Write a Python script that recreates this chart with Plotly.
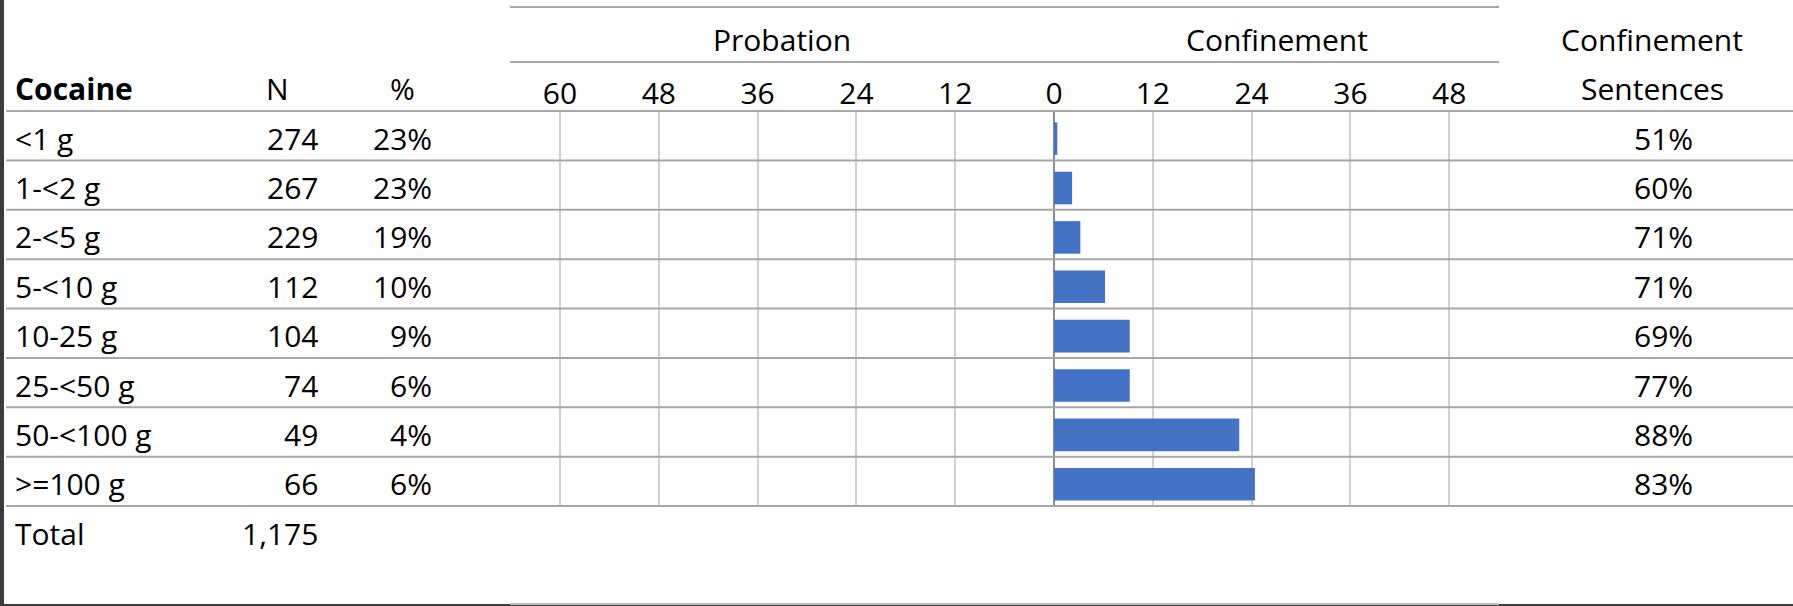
import plotly.graph_objects as go

# ---------------- data ----------------
categories = ["<1 g", "1-<2 g", "2-<5 g", "5-<10 g", "10-25 g", "25-<50 g", "50-<100 g", ">=100 g"]
n_values = [274, 267, 229, 112, 104, 74, 49, 66]
pct_values = [23, 23, 19, 10, 9, 6, 4, 6]
probation_months = [0, 0, 0, 0, 0, 0, 0, 0]
confinement_months = [0.4, 2.2, 3.2, 6.2, 9.2, 9.2, 22.5, 24.4]
confinement_rate = [51, 60, 71, 71, 69, 77, 88, 83]
total_n = 1175
tick_values = [-60, -48, -36, -24, -12, 0, 12, 24, 36, 48]
tick_labels = ["60", "48", "36", "24", "12", "0", "12", "24", "36", "48"]

# ---------------- layout geometry ----------------
W, H = 1793, 606
PLOT_L, PLOT_R = 510, 1499
PLOT_T, PLOT_B = 111, 506
ZERO_PX = 1054
PX_PER_UNIT = 98.8 / 12
ROW_H = (PLOT_B - PLOT_T) / len(categories)
TEXT_DY = 0.05   # text sits slightly below row centre
BAR_W = 0.66
BAR_DY = 0.06

FONT = "Open Sans"
FS = 30
BLUE = "#4472C4"
ROWLINE = "#a6a6a6"
GRID = "#d0d0d0"


def row_of(px):
    """convert a pixel height to the row-index scale used by yaxis2"""
    return (px - PLOT_T) / ROW_H - 0.5


x_lo = (PLOT_L - ZERO_PX) / PX_PER_UNIT
x_hi = (PLOT_R - ZERO_PX) / PX_PER_UNIT

fig = go.Figure()

fig.add_trace(go.Bar(
    y=categories, x=[-v for v in probation_months], base=0, orientation="h",
    marker=dict(color=BLUE, line=dict(width=0)), width=BAR_W, offset=-BAR_W / 2 + BAR_DY,
    xaxis="x", yaxis="y", showlegend=False, hoverinfo="skip"))
fig.add_trace(go.Bar(
    y=categories, x=confinement_months, orientation="h",
    marker=dict(color=BLUE, line=dict(width=0)), width=BAR_W, offset=-BAR_W / 2 + BAR_DY,
    xaxis="x", yaxis="y", showlegend=False))
# helper trace so that the table axes exist
fig.add_trace(go.Scatter(x=[], y=[], xaxis="x2", yaxis="y2", showlegend=False, hoverinfo="skip"))

fig.update_layout(
    width=W, height=H,
    margin=dict(l=0, r=0, t=0, b=0),
    paper_bgcolor="white", plot_bgcolor="rgba(0,0,0,0)",
    barmode="overlay",
    font=dict(family=FONT, size=FS, color="#000000"),
    xaxis=dict(domain=[PLOT_L / W, PLOT_R / W], range=[x_lo, x_hi], side="top",
               tickvals=tick_values, ticktext=tick_labels, ticks="",
               tickfont=dict(family=FONT, size=FS, color="#000000"),
               ticklabelstandoff=0,
               showgrid=True, gridcolor=GRID, gridwidth=2,
               zeroline=True, zerolinecolor="#8c8c8c", zerolinewidth=2,
               showline=False, anchor="y", fixedrange=True),
    yaxis=dict(domain=[1 - PLOT_B / H, 1 - PLOT_T / H], type="category",
               categoryarray=categories, range=[len(categories) - 0.5, -0.5],
               showticklabels=False, showgrid=False, zeroline=False, showline=False,
               ticks="", anchor="x", fixedrange=True),
    xaxis2=dict(domain=[0, 1], range=[0, W], visible=False, anchor="y2", fixedrange=True),
    yaxis2=dict(domain=[0, 1], range=[row_of(H), row_of(0)], visible=False,
                anchor="x2", fixedrange=True),
)

ann = []


def txt(x, y, s, anchor, bold=False):
    ann.append(dict(x=x, y=y + TEXT_DY, xref="x2", yref="y2",
                    text=f"<b>{s}</b>" if bold else s,
                    showarrow=False, xanchor=anchor, yanchor="middle",
                    font=dict(family=FONT, size=FS, color="#000000")))


# header
txt(13, -1, "Cocaine", "left", bold=True)
txt(277, -1, "N", "center")
txt(402, -1, "%", "center")
txt(782, -2, "Probation", "center")
txt(1277, -2, "Confinement", "center")
txt(1652, -2, "Confinement", "center")
txt(1652, -1, "Sentences", "center")

for i, cat in enumerate(categories):
    txt(13, i, cat, "left")
    txt(320, i, f"{n_values[i]:,}", "right")
    txt(434, i, f"{pct_values[i]}%", "right")
    txt(1695, i, f"{confinement_rate[i]}%", "right")

txt(13, len(categories), "Total", "left")
txt(320, len(categories), f"{total_n:,}", "right")

shapes = []
# table row lines
for k in range(len(categories) + 1):
    shapes.append(dict(type="line", xref="x2", yref="y2", x0=6, x1=W,
                       y0=k - 0.5, y1=k - 0.5, line=dict(color=ROWLINE, width=2)))
# chart frame lines (top and under group headers)
for p in (7, 62):
    shapes.append(dict(type="line", xref="x2", yref="y2", x0=PLOT_L, x1=PLOT_R,
                       y0=row_of(p), y1=row_of(p), line=dict(color=ROWLINE, width=2)))
# window borders
shapes.append(dict(type="rect", xref="x2", yref="paper", x0=0, x1=4, y0=0, y1=1,
                   fillcolor="#3c3c3c", line=dict(width=0)))
shapes.append(dict(type="rect", xref="x2", yref="y2", x0=0, x1=W,
                   y0=row_of(604), y1=row_of(606.5), fillcolor="#3c3c3c", line=dict(width=0)))
shapes.append(dict(type="rect", xref="x2", yref="y2", x0=PLOT_L, x1=PLOT_R,
                   y0=row_of(603), y1=row_of(605), fillcolor="#c0c0c0", line=dict(width=0)))

fig.update_layout(annotations=ann, shapes=shapes)

fig.write_html("out.html", config={"displayModeBar": False, "staticPlot": True},
               post_script="document.body.style.margin='0';document.body.style.overflow='hidden';")
